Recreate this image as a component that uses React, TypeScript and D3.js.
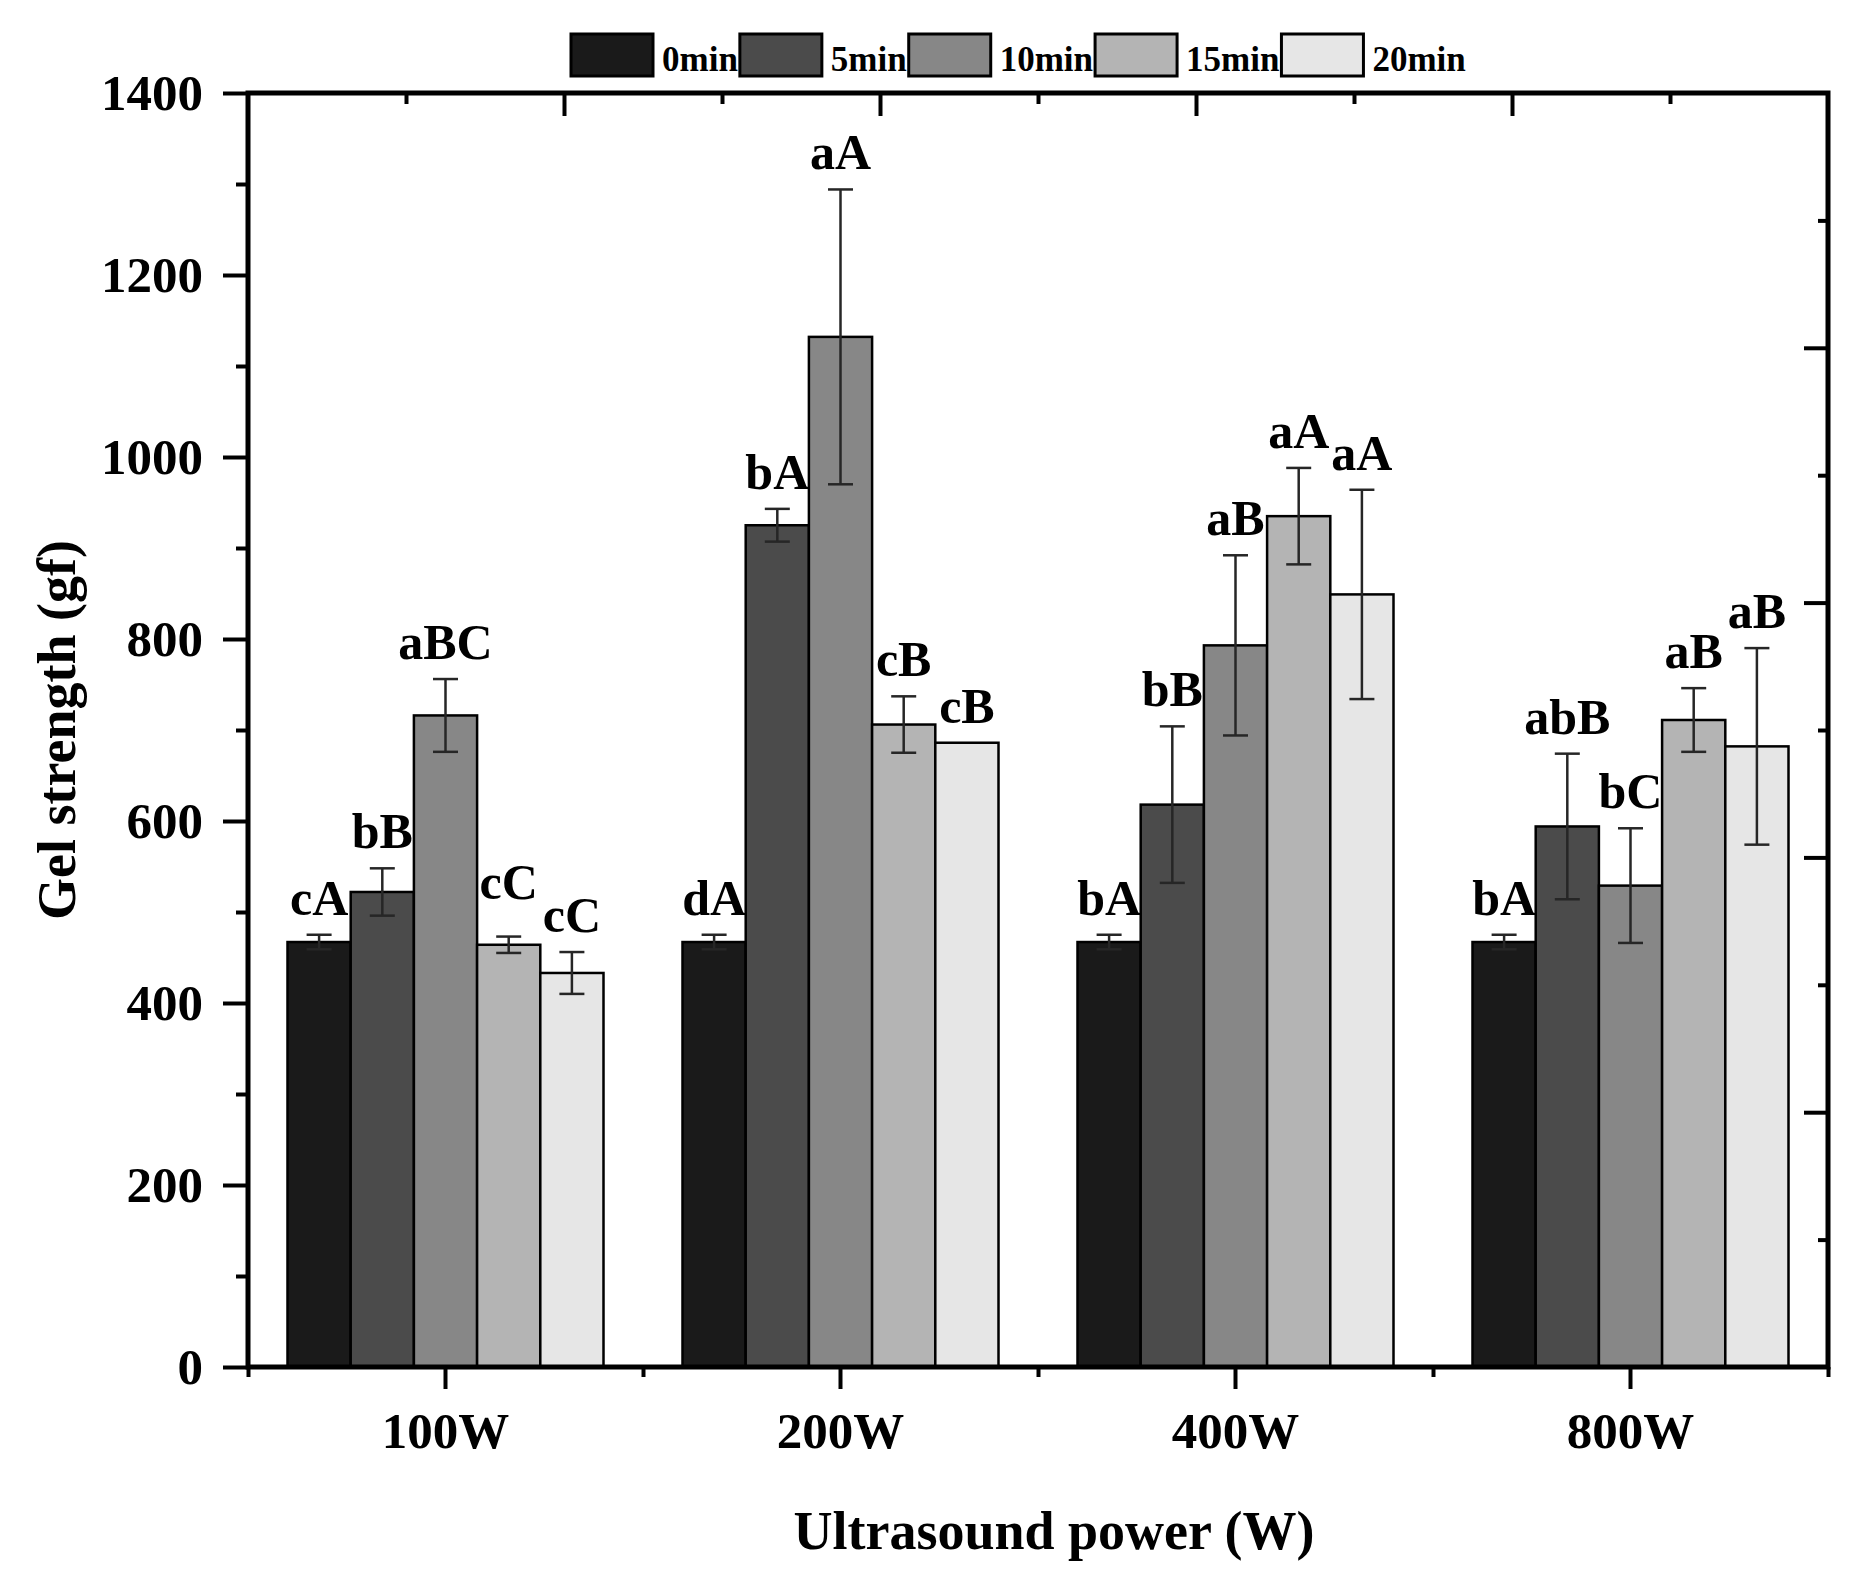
import { useEffect, useRef } from 'react';
import * as d3 from 'd3';

// Gel strength (gf) by ultrasound power and treatment time
const powers = ['100W', '200W', '400W', '800W'];
const times = ['0min', '5min', '10min', '15min', '20min'];
const gelMean = [
  [467, 522, 716, 464, 433],
  [467, 925, 1132, 706, 686],
  [467, 618, 793, 935, 849],
  [467, 594, 529, 711, 682],
];
const gelSd = [
  [8, 26, 40, 9, 23],
  [8, 18, 162, 31, 0],
  [8, 86, 99, 53, 115],
  [8, 80, 63, 35, 108],
];
const letters = [
  ['cA', 'bB', 'aBC', 'cC', 'cC'],
  ['dA', 'bA', 'aA', 'cB', 'cB'],
  ['bA', 'bB', 'aB', 'aA', 'aA'],
  ['bA', 'abB', 'bC', 'aB', 'aB'],
];
const yTicks = [0, 200, 400, 600, 800, 1000, 1200, 1400];
const yMinor = [100, 300, 500, 700, 900, 1100, 1300];

const fills = ['#1a1a1a', '#4b4b4b', '#878787', '#b4b4b4', '#e6e6e6'];
// extra lift for labels that were moved by hand in the original
const labelLift = [
  [0, 0, 0, 18, 0],
  [0, 0, 0, 0, 0],
  [0, 0, 0, 0, 0],
  [0, 0, 0, 0, 0],
];

const W = 1855;
const H = 1585;
const FONT = "'Liberation Serif', 'Times New Roman', serif";

export default function App() {
  const ref = useRef<SVGSVGElement | null>(null);

  useEffect(() => {
    document.body.style.margin = '0';
    const svg = d3.select(ref.current);
    svg.selectAll('*').remove();

    const left = 248;
    const right = 1828;
    const top = 93;
    const bottom = 1367;

    const x0 = d3.scaleBand().domain(powers).range([left, right]);
    const groupW = x0.bandwidth() * 0.8;
    const x1 = d3.scaleBand().domain(times).range([0, groupW]);
    const y = d3.scaleLinear().domain([0, 1400]).range([bottom, top]);

    svg.append('rect').attr('width', W).attr('height', H).attr('fill', '#fff');

    // bars
    powers.forEach((p, i) => {
      const g = svg
        .append('g')
        .attr('transform', `translate(${x0(p)! + (x0.bandwidth() - groupW) / 2},0)`);

      g.selectAll('rect')
        .data(times)
        .enter()
        .append('rect')
        .attr('x', (t) => x1(t)!)
        .attr('y', (_t, j) => y(gelMean[i][j]))
        .attr('width', x1.bandwidth())
        .attr('height', (_t, j) => y(0) - y(gelMean[i][j]))
        .attr('fill', (_t, j) => fills[j])
        .attr('stroke', '#000')
        .attr('stroke-width', 2.5);

      times.forEach((t, j) => {
        const cx = x1(t)! + x1.bandwidth() / 2;
        const m = gelMean[i][j];
        const s = gelSd[i][j];
        if (s > 0) {
          const eb = g.append('g').attr('stroke', '#262626').attr('stroke-width', 2.5);
          eb.append('line').attr('x1', cx).attr('x2', cx).attr('y1', y(m + s)).attr('y2', y(m - s));
          eb.append('line').attr('x1', cx - 12.5).attr('x2', cx + 12.5).attr('y1', y(m + s)).attr('y2', y(m + s));
          eb.append('line').attr('x1', cx - 12.5).attr('x2', cx + 12.5).attr('y1', y(m - s)).attr('y2', y(m - s));
        }
        g.append('text')
          .attr('x', cx)
          .attr('y', y(m + s) - 20 - labelLift[i][j])
          .attr('text-anchor', 'middle')
          .attr('font-family', FONT)
          .attr('font-weight', 'bold')
          .attr('font-size', 50)
          .attr('fill', '#000')
          .text(letters[i][j]);
      });
    });

    const styleAxis = (g: any, textSize?: number) => {
      g.attr('font-family', FONT).attr('font-weight', 'bold');
      g.select('.domain').remove();
      g.selectAll('line').attr('stroke', '#000').attr('stroke-width', 4);
      if (textSize) g.selectAll('text').attr('font-size', textSize).attr('fill', '#000');
      else g.selectAll('text').remove();
    };

    // left axis
    svg
      .append('g')
      .attr('transform', `translate(${left},0)`)
      .call(
        d3
          .axisLeft(y)
          .tickValues(yTicks)
          .tickFormat(d3.format('d'))
          .tickSize(25)
          .tickPadding(20),
      )
      .call((g: any) => styleAxis(g, 51));
    svg
      .append('g')
      .attr('transform', `translate(${left},0)`)
      .call(d3.axisLeft(y).tickValues(yMinor).tickSize(12))
      .call((g: any) => styleAxis(g));

    // bottom axis
    svg
      .append('g')
      .attr('transform', `translate(0,${bottom})`)
      .call(d3.axisBottom(x0).tickSize(22).tickPadding(23))
      .call((g: any) => styleAxis(g, 51));
    const bounds = powers.map((p) => x0(p)!).concat([right]);
    svg
      .append('g')
      .attr('transform', `translate(0,${bottom})`)
      .call(
        d3
          .axisBottom(d3.scaleLinear().domain([left, right]).range([left, right]))
          .tickValues(bounds)
          .tickSize(10),
      )
      .call((g: any) => styleAxis(g));

    // top and right axes, ticks pointing inward
    const xTop = d3.scaleLinear().domain([0, 5]).range([left, right]);
    const yRight = d3.scaleLinear().domain([0, 5]).range([bottom, top]);
    const majors = [1, 2, 3, 4];
    const minors = [0.5, 1.5, 2.5, 3.5, 4.5];
    svg
      .append('g')
      .attr('transform', `translate(0,${top})`)
      .call(d3.axisTop(xTop).tickValues(majors).tickSize(-23))
      .call((g: any) => styleAxis(g));
    svg
      .append('g')
      .attr('transform', `translate(0,${top})`)
      .call(d3.axisTop(xTop).tickValues(minors).tickSize(-11))
      .call((g: any) => styleAxis(g));
    svg
      .append('g')
      .attr('transform', `translate(${right},0)`)
      .call(d3.axisRight(yRight).tickValues(majors).tickSize(-24))
      .call((g: any) => styleAxis(g));
    svg
      .append('g')
      .attr('transform', `translate(${right},0)`)
      .call(d3.axisRight(yRight).tickValues(minors).tickSize(-10))
      .call((g: any) => styleAxis(g));

    // frame
    svg
      .append('rect')
      .attr('x', left)
      .attr('y', top)
      .attr('width', right - left)
      .attr('height', bottom - top)
      .attr('fill', 'none')
      .attr('stroke', '#000')
      .attr('stroke-width', 5);

    // axis titles
    svg
      .append('text')
      .attr('transform', `translate(75,${(top + bottom) / 2}) rotate(-90)`)
      .attr('text-anchor', 'middle')
      .attr('font-family', FONT)
      .attr('font-weight', 'bold')
      .attr('font-size', 54)
      .text('Gel strength (gf)');
    svg
      .append('text')
      .attr('x', 1054)
      .attr('y', 1549)
      .attr('text-anchor', 'middle')
      .attr('font-family', FONT)
      .attr('font-weight', 'bold')
      .attr('font-size', 54)
      .text('Ultrasound power (W)');

    // legend
    const legend = svg.append('g');
    let lx = 571;
    times.forEach((t, j) => {
      legend
        .append('rect')
        .attr('x', lx)
        .attr('y', 34)
        .attr('width', 82)
        .attr('height', 42)
        .attr('fill', fills[j])
        .attr('stroke', '#000')
        .attr('stroke-width', 3);
      const txt = legend
        .append('text')
        .attr('x', lx + 82 + 9)
        .attr('y', 71)
        .attr('font-family', FONT)
        .attr('font-weight', 'bold')
        .attr('font-size', 35)
        .text(t);
      const len = (txt.node() as SVGTextElement).getComputedTextLength();
      lx += 82 + 9 + len + 2;
    });
  }, []);

  return <svg ref={ref} width={W} height={H} style={{ display: 'block' }} />;
}
